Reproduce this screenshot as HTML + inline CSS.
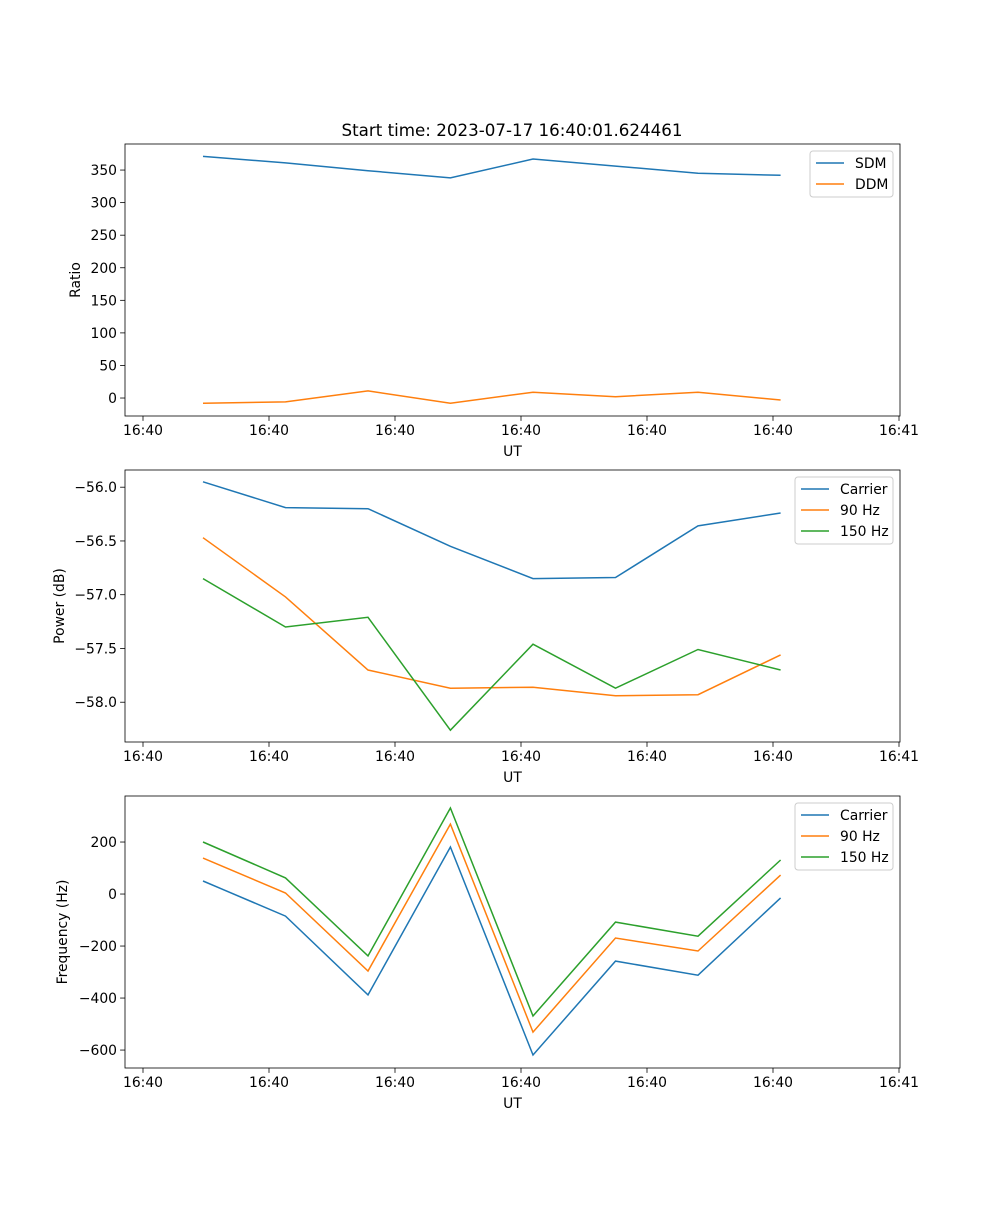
<!DOCTYPE html>
<html><head><meta charset="utf-8"><style>
body{margin:0;background:#fff}
svg text{font-family:"DejaVu Sans","Liberation Sans",sans-serif;font-size:13.9px;fill:#000}
</style></head><body>
<svg id="chart" width="1000" height="1200" xmlns="http://www.w3.org/2000/svg"></svg>
<script>
const times = [4.76, 11.31, 17.86, 24.4, 30.95, 37.5, 44.05, 50.6];
const xTickValues = [0, 10, 20, 30, 40, 50, 60];
const xTickLabels = ["16:40","16:40","16:40","16:40","16:40","16:40","16:41"];
const sdm = [371, 361, 349, 338, 367, 356, 345, 342];
const ddm = [-8, -6, 11, -8, 9, 2, 9, -3];
const powCarrier = [-55.95, -56.19, -56.20, -56.55, -56.85, -56.84, -56.36, -56.24];
const pow90 = [-56.47, -57.02, -57.70, -57.87, -57.86, -57.94, -57.93, -57.56];
const pow150 = [-56.85, -57.30, -57.21, -58.26, -57.46, -57.87, -57.51, -57.70];
const freqCarrier = [50, -85, -388, 181, -619, -258, -312, -15];
const freq90 = [138, 4, -296, 269, -531, -169, -219, 73];
const freq150 = [200, 62, -238, 331, -469, -108, -162, 131];
const ratioTicks = [0, 50, 100, 150, 200, 250, 300, 350];
const powerTicks = [-56.0, -56.5, -57.0, -57.5, -58.0];
const freqTicks = [200, 0, -200, -400, -600];

const NS = "http://www.w3.org/2000/svg";
const svg = document.getElementById("chart");
const L = 125, R = 900;
function mk(tag, attrs, parent, text) {
  const e = document.createElementNS(NS, tag);
  for (const k in attrs) e.setAttribute(k, attrs[k]);
  if (text !== undefined) e.textContent = text;
  (parent || svg).appendChild(e);
  return e;
}
const xs = t => 143 + (t - 0) * (899 - 143) / 60;

function panel(name, top, bot, ymin, ymax, yticks, fmt, ylabel, series, legend) {
  const g = mk("g", {});
  
  
  const ys = v => bot - (v - ymin) / (ymax - ymin) * (bot - top);
  series.forEach(s => {
    const d = s.vals.map((v, i) => (i ? "L" : "M") + xs(times[i]).toFixed(1) + " " + ys(v).toFixed(1)).join(" ");
    const p = mk("path", {d: d, fill: "none", stroke: s.color, "stroke-width": 1.5}, g);
    
    
  });
  const fr = mk("rect", {x: L, y: top, width: R - L, height: bot - top, fill: "none", stroke: "#000", "stroke-width": 0.8}, g);
  
  
  xTickValues.forEach((t, i) => {
    const x = xs(t);
    mk("line", {x1: x, x2: x, y1: bot, y2: bot + 4.9, stroke: "#000", "stroke-width": 0.8}, g);
    const tl = mk("text", {x: x, y: bot + 19, "text-anchor": "middle"}, g, xTickLabels[i]);
    
    
  });
  const xl = mk("text", {x: (L + R) / 2, y: bot + 40, "text-anchor": "middle"}, g, "UT");
  
  
  yticks.forEach(v => {
    const y = ys(v);
    mk("line", {x1: L - 4.9, x2: L, y1: y, y2: y, stroke: "#000", "stroke-width": 0.8}, g);
    const tl = mk("text", {x: L - 8, y: y + 5, "text-anchor": "end"}, g, fmt(v));
    
    
  });
  const yx = ylabel.x, yy = (top + bot) / 2;
  const yl = mk("text", {x: yx, y: yy, "text-anchor": "middle", transform: `rotate(-90 ${yx} ${yy})`}, g, ylabel.text);
  
  
  const lg = mk("g", {}, g);
  
  
  const h = 4 + series.length * 21;
  mk("rect", {x: legend.x, y: top + 7, width: R - 7 - legend.x, height: h, rx: 3, fill: "#fff", "fill-opacity": 0.8, stroke: "#ccc", "stroke-width": 1}, lg);
  series.forEach((s, i) => {
    const cy = top + 7 + 12 + i * 21;
    const e = mk("g", {}, lg);
    
    
    mk("line", {x1: legend.x + 6, x2: legend.x + 34, y1: cy, y2: cy, stroke: s.color, "stroke-width": 1.5}, e);
    mk("text", {x: legend.x + 45, y: cy + 5}, e, s.label);
  });
}
const B = "#1f77b4", O = "#ff7f0e", G = "#2ca02c";
const title = mk("text", {x: 512, y: 136, "text-anchor": "middle", style: "font-size:16.7px"}, svg, "Start time: 2023-07-17 16:40:01.624461");



panel("ratio-panel", 144, 416, -27.6, 390, ratioTicks, v => String(v), {x: 80, text: "Ratio"},
  [{id: "sdm", label: "SDM", vals: sdm, color: B}, {id: "ddm", label: "DDM", vals: ddm, color: O}], {x: 810});
panel("power-panel", 470, 742, -58.37, -55.84, powerTicks, v => "\u2212" + Math.abs(v).toFixed(1), {x: 64, text: "Power (dB)"},
  [{id: "carrier", label: "Carrier", vals: powCarrier, color: B}, {id: "90hz", label: "90 Hz", vals: pow90, color: O}, {id: "150hz", label: "150 Hz", vals: pow150, color: G}], {x: 795});
panel("frequency-panel", 796, 1068, -669, 377, freqTicks, v => (v < 0 ? "\u2212" : "") + Math.abs(v), {x: 67, text: "Frequency (Hz)"},
  [{id: "carrier", label: "Carrier", vals: freqCarrier, color: B}, {id: "90hz", label: "90 Hz", vals: freq90, color: O}, {id: "150hz", label: "150 Hz", vals: freq150, color: G}], {x: 795});
</script>
</body></html>
